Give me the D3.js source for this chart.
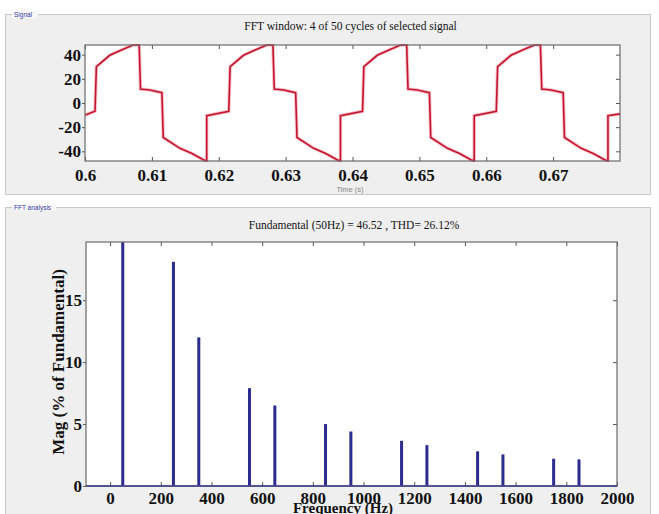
<!DOCTYPE html>
<html>
<head>
<meta charset="utf-8">
<script src="https://cdn.jsdelivr.net/npm/d3@7/dist/d3.min.js"></script>
<style>
  html, body { margin: 0; padding: 0; background: #ffffff; }
  svg { display: block; }
</style>
</head>
<body>
<svg id="chart" width="659" height="514"></svg>
<script>
// ---------- DATA ----------
const signalTime = [
  0.6000, 0.6015, 0.6017, 0.6037, 0.6057, 0.6072, 0.6081, 0.6083, 0.6097, 0.6115, 0.6117, 0.6142, 0.6160, 0.6177, 0.6182,
  0.6182, 0.6215, 0.6217, 0.6237, 0.6257, 0.6272, 0.6281, 0.6283, 0.6297, 0.6315, 0.6317, 0.6342, 0.6360, 0.6377, 0.6382,
  0.6382, 0.6415, 0.6417, 0.6437, 0.6457, 0.6472, 0.6481, 0.6483, 0.6497, 0.6515, 0.6517, 0.6542, 0.6560, 0.6577, 0.6582,
  0.6582, 0.6615, 0.6617, 0.6637, 0.6657, 0.6672, 0.6681, 0.6683, 0.6697, 0.6715, 0.6717, 0.6742, 0.6760, 0.6777, 0.6782,
  0.6782, 0.6800
];
const signalValue = [
  -10.0, -6.8, 30.0, 39.5, 44.5, 48.0, 48.0, 11.5, 10.7, 8.5, -28.5, -37.5, -41.8, -47.0, -48.0,
  -10.5, -6.8, 30.0, 39.5, 44.5, 48.0, 48.0, 11.5, 10.7, 8.5, -28.5, -37.5, -41.8, -47.0, -48.0,
  -10.5, -6.8, 30.0, 39.5, 44.5, 48.0, 48.0, 11.5, 10.7, 8.5, -28.5, -37.5, -41.8, -47.0, -48.0,
  -10.5, -6.8, 30.0, 39.5, 44.5, 48.0, 48.0, 11.5, 10.7, 8.5, -28.5, -37.5, -41.8, -47.0, -48.0,
  -10.5, -9.0
];
const timeTicks = [0.60, 0.61, 0.62, 0.63, 0.64, 0.65, 0.66, 0.67];
const timeTickLabels = ["0.6", "0.61", "0.62", "0.63", "0.64", "0.65", "0.66", "0.67"];
const signalTicks = [-40, -20, 0, 20, 40];

const harmonicFreq = [50, 250, 350, 550, 650, 850, 950, 1150, 1250, 1450, 1550, 1750, 1850];
const harmonicMag  = [100, 18.1, 12.0, 7.9, 6.5, 5.0, 4.4, 3.65, 3.3, 2.8, 2.55, 2.2, 2.15];
const freqTicks = [0, 200, 400, 600, 800, 1000, 1200, 1400, 1600, 1800, 2000];
const magTicks = [0, 5, 10, 15];

const topTitle = "FFT window: 4 of 50 cycles of selected signal";
const bottomTitle = "Fundamental (50Hz) = 46.52 , THD= 26.12%";

// ---------- DRAW ----------
const svg = d3.select("#chart");
const serif = "'Liberation Serif', 'Times New Roman', serif";

// panels
function panel(y0, y1, label, labelW) {
  svg.append("rect").attr("x", 5.5).attr("y", y0 + 0.5).attr("width", 645).attr("height", y1 - y0)
    .attr("fill", "#efefef").attr("stroke", "#c9c9c9");
  svg.append("rect").attr("x", 12).attr("y", y0 - 3).attr("width", labelW).attr("height", 7).attr("fill", "#f7f7f7");
  svg.append("text").attr("x", 14).attr("y", y0 + 3).text(label)
    .attr("font-family", "'Liberation Sans', Arial, sans-serif").attr("font-size", 6.5).attr("fill", "#3a3aa0");
}
panel(14, 194, "Signal", 26);
panel(207, 520, "FFT analysis", 44);

// ---- top plot ----
const t = { l: 85, r: 620, t: 45, b: 161 };
const xT = d3.scaleLinear().domain([0.6, 0.68]).range([t.l, t.r]);
const yT = d3.scaleLinear().domain([-48, 48]).range([t.b, t.t]);

svg.append("rect").attr("x", t.l).attr("y", t.t).attr("width", t.r - t.l).attr("height", t.b - t.t).attr("fill", "#ffffff");

svg.append("defs").append("clipPath").attr("id", "clipT")
  .append("rect").attr("x", t.l).attr("y", t.t - 1).attr("width", t.r - t.l).attr("height", t.b - t.t + 2);

const sigPts = signalTime.map((d, i) => [d, signalValue[i]]);
const line = d3.line().x(d => xT(d[0])).y(d => yT(d[1]));
const gSig = svg.append("g").attr("clip-path", "url(#clipT)");
gSig.append("path").datum(sigPts).attr("d", line).attr("fill", "none")
  .attr("stroke", "#f3a6b2").attr("stroke-width", 3.5).attr("stroke-opacity", 0.7);
gSig.append("path").datum(sigPts).attr("d", line).attr("fill", "none")
  .attr("stroke", "#c4142f").attr("stroke-width", 1.6);

function styleAxis(g, size) {
  g.selectAll(".domain").remove();
  g.selectAll(".tick line").attr("stroke", "#555");
  g.selectAll(".tick text").attr("font-family", serif).attr("font-weight", "bold")
    .attr("font-size", size).attr("fill", "#111");
}

svg.append("g").attr("transform", `translate(0,${t.b})`)
  .call(d3.axisBottom(xT).tickValues(timeTicks).tickFormat((d, i) => timeTickLabels[i]).tickSizeInner(-4).tickPadding(8))
  .call(g => styleAxis(g, 17));
svg.append("g").attr("transform", `translate(0,${t.t})`)
  .call(d3.axisTop(xT).tickValues(timeTicks).tickFormat("").tickSizeInner(-4))
  .call(g => styleAxis(g, 17));
svg.append("g").attr("transform", `translate(${t.l},0)`)
  .call(d3.axisLeft(yT).tickValues(signalTicks).tickFormat(d => String(d)).tickSizeInner(3).tickPadding(1))
  .call(g => styleAxis(g, 17));
svg.append("g").attr("transform", `translate(${t.r},0)`)
  .call(d3.axisRight(yT).tickValues(signalTicks).tickFormat("").tickSizeInner(-4))
  .call(g => styleAxis(g, 17));
svg.append("rect").attr("x", t.l).attr("y", t.t).attr("width", t.r - t.l).attr("height", t.b - t.t)
  .attr("fill", "none").attr("stroke", "#6a6a6a").attr("stroke-width", 1.2);

svg.append("text").attr("x", (t.l + t.r) / 2 - 2).attr("y", 30).attr("text-anchor", "middle")
  .attr("font-family", serif).attr("font-size", 11.5).attr("fill", "#111").text(topTitle);
svg.append("text").attr("x", 350).attr("y", 192).attr("text-anchor", "middle")
  .attr("font-family", "'Liberation Sans', Arial, sans-serif").attr("font-size", 7.5).attr("fill", "#888").text("Time (s)");

// ---- bottom plot ----
const b = { l: 86, r: 617, t: 242, b: 486 };
const xB = d3.scaleLinear().domain([-95, 2000]).range([b.l, b.r]);
const yB = d3.scaleLinear().domain([0, 19.7]).range([b.b, b.t]);

svg.append("rect").attr("x", b.l).attr("y", b.t).attr("width", b.r - b.l).attr("height", b.b - b.t).attr("fill", "#ffffff");
svg.select("defs").append("clipPath").attr("id", "clipB")
  .append("rect").attr("x", b.l).attr("y", b.t).attr("width", b.r - b.l).attr("height", b.b - b.t);

svg.append("g").attr("transform", `translate(0,${b.b})`)
  .call(d3.axisBottom(xB).tickValues(freqTicks).tickFormat(d => String(d)).tickSizeInner(-4).tickPadding(6))
  .call(g => styleAxis(g, 17));
svg.append("g").attr("transform", `translate(0,${b.t})`)
  .call(d3.axisTop(xB).tickValues(freqTicks).tickFormat("").tickSizeInner(-4))
  .call(g => styleAxis(g, 17));
svg.append("g").attr("transform", `translate(${b.l},0)`)
  .call(d3.axisLeft(yB).tickValues(magTicks).tickFormat(d => String(d)).tickSizeInner(3).tickPadding(1))
  .call(g => styleAxis(g, 17));
svg.append("g").attr("transform", `translate(${b.r},0)`)
  .call(d3.axisRight(yB).tickValues(magTicks).tickFormat("").tickSizeInner(-4))
  .call(g => styleAxis(g, 17));

const gBars = svg.append("g").attr("clip-path", "url(#clipB)");
gBars.selectAll("rect.bar").data(harmonicFreq).join("rect").attr("class", "bar")
  .attr("x", d => xB(d) - 1.5).attr("width", 3)
  .attr("y", (d, i) => yB(harmonicMag[i])).attr("height", (d, i) => yB(0) - yB(harmonicMag[i]))
  .attr("fill", "#2c2c8e");

svg.append("rect").attr("x", b.l).attr("y", b.t).attr("width", b.r - b.l).attr("height", b.b - b.t)
  .attr("fill", "none").attr("stroke", "#6a6a6a").attr("stroke-width", 1.2);
svg.append("line").attr("x1", b.l).attr("x2", b.r).attr("y1", yB(0)).attr("y2", yB(0))
  .attr("stroke", "#3a3a8a").attr("stroke-width", 1.5);

svg.append("text").attr("x", 354).attr("y", 229).attr("text-anchor", "middle")
  .attr("font-family", serif).attr("font-size", 11.5).attr("fill", "#111").text(bottomTitle);
svg.append("text").attr("transform", `translate(64,${(b.t + b.b) / 2 - 2}) rotate(-90)`).attr("text-anchor", "middle")
  .attr("font-family", serif).attr("font-weight", "bold").attr("font-size", 17).attr("fill", "#111")
  .text("Mag (% of Fundamental)");
svg.append("text").attr("x", 343).attr("y", 513).attr("text-anchor", "middle")
  .attr("font-family", serif).attr("font-weight", "bold").attr("font-size", 15).attr("fill", "#111")
  .text("Frequency (Hz)");
</script>
</body>
</html>
